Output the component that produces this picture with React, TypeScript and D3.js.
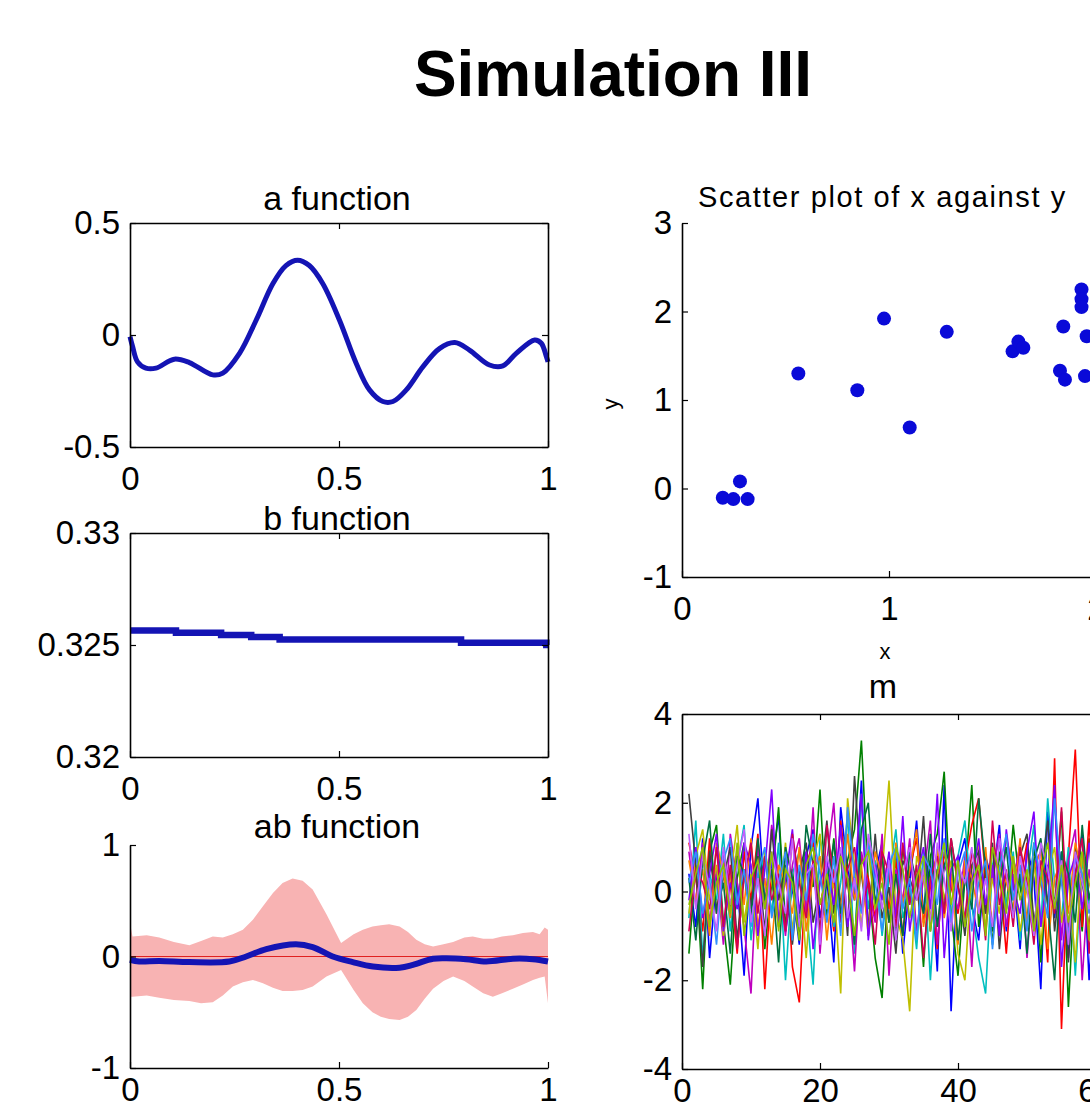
import React, { useEffect, useRef } from "react";
import * as d3 from "d3";

// a function
const aX = [0, 0.006, 0.018, 0.038, 0.062, 0.106, 0.142, 0.198, 0.222, 0.262, 0.302, 0.342, 0.373, 0.401, 0.429, 0.461, 0.501, 0.541, 0.573, 0.605, 0.629, 0.661, 0.701, 0.741, 0.777, 0.812, 0.86, 0.892, 0.924, 0.968, 0.984, 0.996, 1.0];
const aY = [-0.007, -0.05, -0.12, -0.148, -0.148, -0.108, -0.123, -0.178, -0.17, -0.082, 0.067, 0.23, 0.31, 0.334, 0.31, 0.23, 0.067, -0.126, -0.245, -0.297, -0.297, -0.245, -0.141, -0.06, -0.034, -0.067, -0.134, -0.138, -0.082, -0.022, -0.037, -0.096, -0.12];

// b function (steps)
const bX = [0, 0.11, 0.218, 0.29, 0.358, 0.792, 0.996, 1.0];
const bY = [0.32565, 0.32555, 0.32545, 0.32536, 0.32525, 0.3251, 0.325, 0.325];

// ab function: mean + band
const abX = [0, 0.022, 0.07, 0.142, 0.238, 0.278, 0.326, 0.397, 0.437, 0.485, 0.533, 0.581, 0.645, 0.677, 0.725, 0.757, 0.804, 0.852, 0.916, 0.964, 1.0];
const abMean = [-0.03, -0.045, -0.04, -0.05, -0.045, 0, 0.066, 0.11, 0.085, 0, -0.05, -0.09, -0.1, -0.075, -0.02, -0.015, -0.024, -0.045, -0.02, -0.024, -0.045];
const bandX = [0, 0.006, 0.04, 0.07, 0.105, 0.142, 0.17, 0.198, 0.222, 0.246, 0.27, 0.294, 0.318, 0.342, 0.365, 0.389, 0.413, 0.437, 0.47, 0.505, 0.535, 0.557, 0.58, 0.6, 0.62, 0.645, 0.665, 0.685, 0.705, 0.725, 0.75, 0.773, 0.8, 0.82, 0.845, 0.868, 0.89, 0.916, 0.94, 0.964, 0.98, 0.992, 1.0];
const bandUpper = [0.30, 0.18, 0.19, 0.17, 0.13, 0.10, 0.14, 0.18, 0.17, 0.20, 0.24, 0.33, 0.45, 0.57, 0.66, 0.70, 0.68, 0.60, 0.38, 0.12, 0.20, 0.24, 0.27, 0.28, 0.29, 0.27, 0.22, 0.15, 0.11, 0.09, 0.11, 0.13, 0.17, 0.18, 0.16, 0.16, 0.18, 0.19, 0.21, 0.22, 0.20, 0.26, 0.24];
const bandLower = [-0.36, -0.36, -0.35, -0.37, -0.39, -0.40, -0.42, -0.41, -0.35, -0.27, -0.23, -0.21, -0.24, -0.28, -0.31, -0.31, -0.30, -0.27, -0.18, -0.12, -0.30, -0.42, -0.50, -0.54, -0.56, -0.57, -0.54, -0.48, -0.38, -0.29, -0.22, -0.18, -0.22, -0.27, -0.33, -0.36, -0.33, -0.29, -0.25, -0.21, -0.19, -0.18, -0.42];

// scatter of x against y
const scatterX = [0.197, 0.248, 0.28, 0.317, 0.562, 0.847, 0.976, 1.10, 1.279, 1.597, 1.625, 1.649, 1.842, 1.826, 1.85, 1.93, 1.93, 1.93, 1.955, 1.947];
const scatterY = [-0.105, -0.12, 0.08, -0.12, 1.30, 1.11, 1.92, 0.69, 1.77, 1.55, 1.66, 1.59, 1.83, 1.33, 1.23, 2.25, 2.14, 2.05, 1.72, 1.27];

// m : one series per colour, x = 1..60
const mColors = ["#0000ff", "#008000", "#ff0000", "#00bfbf", "#bf00bf", "#bfbf00", "#404040", "#ff8000", "#8000ff", "#007040", "#d00050", "#3090ff", "#c060ff", "#90c000"];
const mSeries = [
  [0.4, -0.8, 1.2, -1.5, 0.3, 0.9, -0.4, 0.2, -1.9, 1.0, 2.1, -0.3, 0.6, 1.7, -0.9, 0.1, -1.2, 0.8, 1.4, -0.6, 0.3, -1.6, 1.9, 0.5, -0.2, 2.5, -1.0, 0.4, 1.1, -0.7, 0.9, -1.4, 0.2, 1.6, -0.5, 0.7, -1.8, 2.4, -2.7, 0.6, 1.2, -0.3, -1.1, 0.8, 0.2, 1.5, -0.9, 0.4, -1.3, 1.0, 0.3, -2.2, 1.8, -0.6, 0.9, -1.5, 0.4, 1.3, -2.0, 0.7],
  [-1.4, 0.6, -2.2, 0.9, 1.5, -0.7, -2.1, 0.3, 1.1, -0.4, 0.8, -1.3, 0.2, 1.9, -0.8, 0.5, -1.1, 0.9, 0.1, 2.3, -0.6, 1.2, -0.3, 0.7, 1.4, 3.4, 0.2, -1.5, -2.4, 0.6, -0.9, 1.0, -0.2, 0.4, -1.7, 0.8, 1.3, 2.7, -0.5, -1.9, 0.3, 2.4, -0.8, 0.5, -1.2, 0.9, -0.4, 1.5, 0.1, -0.7, 1.1, -1.6, 0.6, -0.3, 1.8, -2.6, 0.4, -0.9, 1.2, -0.2],
  [1.1, 0.3, -0.9, 1.2, -0.5, 0.7, 0.2, -1.4, 0.9, -0.2, 1.3, -2.2, 0.5, -0.8, 1.0, -1.7, -2.5, 0.6, 1.1, -0.3, 0.4, -0.9, 1.6, 0.2, -1.2, 0.8, 0.3, -0.6, 1.0, -0.4, 0.7, -1.0, 0.5, 1.2, -0.7, 0.2, -1.3, 0.9, 0.1, -0.5, 0.6, 1.5, 2.1, 0.3, -0.8, 0.5, -1.4, 0.7, 0.2, 1.1, -0.9, 0.4, -1.6, 3.0, -3.1, 0.8, 3.2, -0.8, 1.6, -1.2],
  [-0.6, 1.6, -1.5, 0.4, -0.2, 1.3, -0.9, 0.6, 1.5, -1.1, 0.3, 0.8, -0.5, 1.1, -2.0, 0.4, 0.9, -0.3, -2.1, 1.2, 0.5, -0.8, 0.2, 1.7, -1.4, 2.2, -0.4, 0.7, -1.0, 0.3, 1.4, -0.6, 0.1, -1.3, 0.9, -2.0, 0.5, 1.1, -0.7, 0.8, 1.6, -0.3, -1.5, -2.3, 0.6, 1.2, -0.4, 0.9, -1.1, 0.3, 1.5, -0.8, 2.1, 0.2, -0.6, 1.0, -1.9, 0.7, -0.3, 0.5],
  [0.9, -0.3, 1.1, -0.7, 0.5, -1.2, 1.3, 0.2, -0.8, -2.3, 1.0, -0.4, 1.5, 0.3, -1.0, 0.6, 1.2, -0.5, 1.9, -1.4, 0.7, 2.0, -0.6, 0.4, -1.8, 0.9, 0.1, -0.7, 1.3, -1.9, 0.5, -0.2, 1.2, -0.9, 0.3, 1.6, -1.2, 0.6, 0.2, -0.4, 0.8, -1.7, 1.0, -0.5, 0.4, 1.3, -0.8, 0.2, 1.1, -1.5, 0.6, 0.9, -0.3, 2.2, -1.1, 0.7, 1.4, -2.0, 0.5, -0.6],
  [-0.5, 0.8, 1.4, -0.2, 0.6, -1.0, 0.3, 1.5, -0.7, 0.4, -1.3, 0.9, 0.2, -0.6, 1.1, -0.9, 0.5, -1.5, 0.7, 1.3, -0.4, 0.2, -2.3, 2.1, 0.6, -0.8, 1.2, -0.3, 0.4, 2.5, -0.5, -1.1, -2.7, 0.8, 0.3, -0.6, 1.0, -0.2, 0.7, -1.4, -2.0, 0.5, 1.1, -0.8, 0.3, -0.5, 1.2, 0.6, -0.9, 0.1, 0.8, -1.2, 0.4, 1.0, -0.7, 0.3, -1.6, 0.9, 0.2, -0.4],
  [2.2, 0.6, -1.7, 0.9, -0.4, 0.3, 1.0, -1.1, 0.5, -0.3, 0.8, -0.9, 1.4, -0.2, 0.6, -1.2, 0.4, 1.1, -0.7, 0.2, 1.6, -0.5, 0.9, -1.0, 2.6, 0.4, -0.8, 1.3, -0.6, 0.1, -1.4, 0.7, 0.3, -0.2, 1.7, -0.9, 0.5, -0.4, 1.2, 0.2, -1.0, 0.6, 0.9, -0.5, 1.1, -1.3, 0.4, -0.2, 0.8, 1.3, -0.7, 0.3, 1.6, -0.9, 0.5, -1.6, 1.0, 0.2, -0.8, 0.6],
  [0.7, -0.2, 0.5, -1.0, 1.1, 0.4, -0.6, 0.9, -0.3, 1.2, -0.8, 0.3, -1.2, 0.6, 0.2, -0.5, 1.0, -0.9, 0.4, 0.8, -1.1, 0.5, -0.4, 1.3, -0.2, 0.6, -1.0, 0.9, 0.3, -0.7, 1.1, -0.3, 0.5, 1.4, -0.8, 0.2, 0.9, -0.6, 0.4, -1.2, 0.7, 0.3, -0.5, 1.0, -0.9, 0.6, 0.2, -0.4, 1.2, -0.7, 0.5, 0.9, -1.3, 0.3, 0.7, -0.5, 1.1, 0.4, -0.9, 0.6],
  [-0.2, 1.0, -0.6, 0.4, 1.3, -0.9, 0.2, -0.4, 1.1, 0.6, -1.0, 0.5, 2.3, -0.7, 0.3, 1.4, -0.5, 0.9, -1.3, 0.2, 0.7, -0.3, 1.5, -0.8, 0.4, 2.2, -1.1, 0.6, -0.2, 0.9, -0.6, 1.7, -0.9, 0.3, 1.0, -0.4, 2.2, -1.5, 0.5, 0.8, -0.7, 0.2, 1.2, -0.3, 0.6, -1.0, 1.4, 0.1, -0.5, 0.9, 1.8, -0.8, 0.4, 2.4, -1.7, 0.3, 0.8, -0.4, 1.1, -0.6],
  [0.3, -1.1, 0.7, 1.6, -0.5, 0.2, -1.4, 0.8, 0.4, -0.6, 1.2, -0.2, 0.5, -1.6, 1.0, 0.3, -0.8, 1.5, 0.6, -0.9, 0.2, 1.1, -0.5, 0.3, -1.2, 1.4, 2.0, -0.3, 0.8, -0.7, 0.4, -1.0, 0.9, 0.2, -0.5, 1.3, -0.8, 0.6, 1.0, -1.1, 0.3, -0.4, 2.1, 0.5, -0.9, 0.2, 1.0, -0.6, 0.4, -1.4, 0.7, 1.2, -0.3, -2.0, 0.9, 0.4, -0.7, 1.5, -0.2, 0.8],
  [-0.9, 0.5, 0.2, -0.4, 1.0, -0.8, 0.6, -1.3, 0.3, 1.1, -0.5, 0.8, -0.2, 0.4, -0.9, 1.3, 0.2, -0.6, 0.7, -1.0, 1.5, 0.3, -0.7, 0.5, 1.0, -0.4, 0.2, -1.2, 0.9, 0.4, -0.8, 1.1, -0.3, 0.6, -1.5, 0.3, 0.8, -0.5, 1.2, 0.1, -0.6, 0.9, 0.4, -1.1, 1.6, -0.3, 0.5, -0.8, 1.0, 0.2, -1.2, 0.7, 0.3, -0.5, 1.9, -0.9, 0.4, 1.2, -1.4, 0.3],
  [0.2, 0.9, -0.5, 0.3, -1.2, 0.7, 1.2, -0.3, 0.5, -0.8, 0.4, 1.0, -0.6, 0.2, 0.9, -1.1, 0.6, -0.2, 1.3, 0.4, -0.7, 0.8, -1.0, 1.9, 0.3, -0.5, 1.1, 0.2, -0.9, 0.6, 1.0, -0.4, 0.3, -1.1, 0.8, 0.5, -0.3, 1.2, -0.7, 0.4, 0.9, -0.9, 0.2, 0.7, -1.3, 0.5, 1.3, -0.2, 0.6, -0.9, 1.1, 0.3, -0.6, 2.1, 0.2, -1.0, 0.8, 0.4, -0.5, 1.0],
  [1.3, -0.4, 0.8, 0.1, -0.9, 1.0, -0.3, 0.6, 1.4, -0.7, 0.3, -1.0, 0.9, 0.2, -0.5, 1.2, -0.8, 0.4, 0.6, -1.2, 0.8, 0.2, 1.0, -0.6, 0.3, -0.9, 1.3, 0.5, -0.4, 0.7, -1.1, 0.4, 1.0, -0.2, 0.5, -0.7, 1.1, 0.3, -0.9, 0.6, 0.2, 1.0, -0.5, 0.3, -0.8, 1.2, 0.4, -0.6, 0.8, 0.1, -1.0, 1.1, 0.5, -0.3, 0.7, -1.2, 0.9, 0.2, -0.4, 0.6],
  [-0.3, 0.4, 1.0, -0.8, 0.2, 0.6, -0.5, 1.1, -1.0, 0.3, 0.7, -0.4, 0.9, -0.9, 0.5, 0.2, -1.1, 0.6, 1.0, -0.3, 0.4, -0.7, 0.8, 0.3, -1.0, 0.6, 0.9, -0.4, 0.2, -1.2, 1.0, 0.5, -0.6, 0.3, 0.8, -0.9, 0.4, 1.1, -0.3, 0.7, -0.8, 0.2, 0.6, -1.0, 1.0, 0.4, -0.5, 0.8, -0.2, 0.5, -0.9, 0.3, 1.1, -0.4, 0.6, -0.7, 0.2, 0.9, -1.1, 0.4],
];

const FONT = "'Liberation Sans', Arial, sans-serif";
const LINE_BLUE = "#1414b4";

function frame(g, x, y, xTicks, yTicks, box, xPad = 20) {
  const [x0, x1] = x.range();
  const [y0, y1] = y.range();
  const fmt = (d) => String(d);
  const bottom = g.append("g").attr("transform", `translate(0,${y0})`)
    .call(d3.axisBottom(x).tickValues(xTicks).tickSizeInner(-6).tickSizeOuter(0).tickPadding(xPad).tickFormat(fmt));
  const left = g.append("g").attr("transform", `translate(${x0},0)`)
    .call(d3.axisLeft(y).tickValues(yTicks).tickSizeInner(-6).tickSizeOuter(0).tickPadding(10).tickFormat(fmt));
  [bottom, left].forEach(a => {
    a.selectAll("text").attr("font-family", FONT).attr("font-size", 33).attr("fill", "#000");
    a.attr("font-family", null).attr("font-size", null);
  });
  if (box) {
    g.append("g").attr("transform", `translate(0,${y1})`)
      .call(d3.axisTop(x).tickValues(xTicks).tickSizeInner(-6).tickSizeOuter(0).tickFormat(() => ""));
    g.append("g").attr("transform", `translate(${x1},0)`)
      .call(d3.axisRight(y).tickValues(yTicks).tickSizeInner(-6).tickSizeOuter(0).tickFormat(() => ""));
  }
  g.selectAll(".domain").attr("stroke", "#000").attr("stroke-width", 1.6);
  g.selectAll(".tick line").attr("stroke", "#000").attr("stroke-width", 1.2);
}

function title(svg, txt, cx, baseline, size = 34) {
  svg.append("text").attr("x", cx).attr("y", baseline).attr("text-anchor", "middle")
    .attr("font-family", FONT).attr("font-size", size).attr("fill", "#000").text(txt);
}

export default function App() {
  const ref = useRef(null);

  useEffect(() => {
    const svg = d3.select(ref.current);
    svg.selectAll("*").remove();

    svg.append("text").attr("x", 613).attr("y", 96).attr("text-anchor", "middle")
      .attr("font-family", FONT).attr("font-weight", "bold").attr("font-size", 64).text("Simulation III");

    const L = 130, R = 548;

    // a function
    const ax = d3.scaleLinear().domain([0, 1]).range([L, R]);
    const ay = d3.scaleLinear().domain([-0.5, 0.5]).range([447, 223]);
    const ga = svg.append("g");
    ga.append("path").datum(aX.map((v, i) => [v, aY[i]]))
      .attr("fill", "none").attr("stroke", LINE_BLUE).attr("stroke-width", 5)
      .attr("d", d3.line().x(d => ax(d[0])).y(d => ay(d[1])).curve(d3.curveCatmullRom));
    frame(ga, ax, ay, [0, 0.5, 1], [-0.5, 0, 0.5], true);
    title(svg, "a function", 337, 210);

    // b function
    const by = d3.scaleLinear().domain([0.32, 0.33]).range([757, 533]);
    const gb = svg.append("g");
    gb.append("path").datum(bX.map((v, i) => [v, bY[i]]))
      .attr("fill", "none").attr("stroke", LINE_BLUE).attr("stroke-width", 6.5)
      .attr("d", d3.line().x(d => ax(d[0])).y(d => by(d[1])).curve(d3.curveStepAfter));
    frame(gb, ax, by, [0, 0.5, 1], [0.32, 0.325, 0.33], true);
    title(svg, "b function", 337, 530);

    // ab function
    const cy = d3.scaleLinear().domain([-1, 1]).range([1068, 845]);
    const gc = svg.append("g");
    gc.append("path").datum(bandX.map((v, i) => [v, bandLower[i], bandUpper[i]]))
      .attr("fill", "#f8b3b3").attr("stroke", "none")
      .attr("d", d3.area().x(d => ax(d[0])).y0(d => cy(d[1])).y1(d => cy(d[2])).curve(d3.curveLinear));
    gc.append("line").attr("x1", ax(0)).attr("x2", ax(1)).attr("y1", cy(0)).attr("y2", cy(0))
      .attr("stroke", "#e02020").attr("stroke-width", 1);
    gc.append("path").datum(abX.map((v, i) => [v, abMean[i]]))
      .attr("fill", "none").attr("stroke", LINE_BLUE).attr("stroke-width", 6)
      .attr("d", d3.line().x(d => ax(d[0])).y(d => cy(d[1])).curve(d3.curveCatmullRom));
    frame(gc, ax, cy, [0, 0.5, 1], [-1, 0, 1], false, 10);
    title(svg, "ab function", 337, 838);

    // scatter
    const SL = 682, SR = 1096;
    const sx = d3.scaleLinear().domain([0, 2]).range([SL, SR]);
    const sy = d3.scaleLinear().domain([-1, 3]).range([577, 223]);
    const gs = svg.append("g");
    gs.selectAll("circle").data(scatterX.map((v, i) => [v, scatterY[i]])).join("circle")
      .attr("cx", d => sx(d[0])).attr("cy", d => sy(d[1])).attr("r", 7).attr("fill", "#0a0ad8");
    frame(gs, sx, sy, [0, 1, 2], [-1, 0, 1, 2, 3], false);
    svg.append("text").attr("x", 698).attr("y", 207).attr("font-family", FONT).attr("font-size", 29)
      .attr("letter-spacing", 1.6).text("Scatter plot of x against y");
    svg.append("text").attr("x", 885).attr("y", 659).attr("text-anchor", "middle")
      .attr("font-family", FONT).attr("font-size", 22).text("x");
    svg.append("text").attr("transform", `translate(618,404) rotate(-90)`).attr("text-anchor", "middle")
      .attr("font-family", FONT).attr("font-size", 22).text("y");

    // m
    const mx = d3.scaleLinear().domain([0, 60]).range([SL, SR]);
    const my = d3.scaleLinear().domain([-4, 4]).range([1069, 714]);
    const gm = svg.append("g");
    const mline = d3.line().x((d, i) => mx(i + 1)).y(d => my(d));
    mSeries.forEach((s, k) => {
      gm.append("path").datum(s).attr("fill", "none").attr("stroke", mColors[k])
        .attr("stroke-width", 1.6).attr("d", mline);
    });
    frame(gm, mx, my, [0, 20, 40, 60], [-4, -2, 0, 2, 4], true, 10);
    title(svg, "m", 883, 698);
  }, []);

  return (
    <div>
      <style>{"body{margin:0;overflow:hidden;background:#fff}"}</style>
      <svg ref={ref} width={1090} height={1111} style={{ display: "block" }} />
    </div>
  );
}
